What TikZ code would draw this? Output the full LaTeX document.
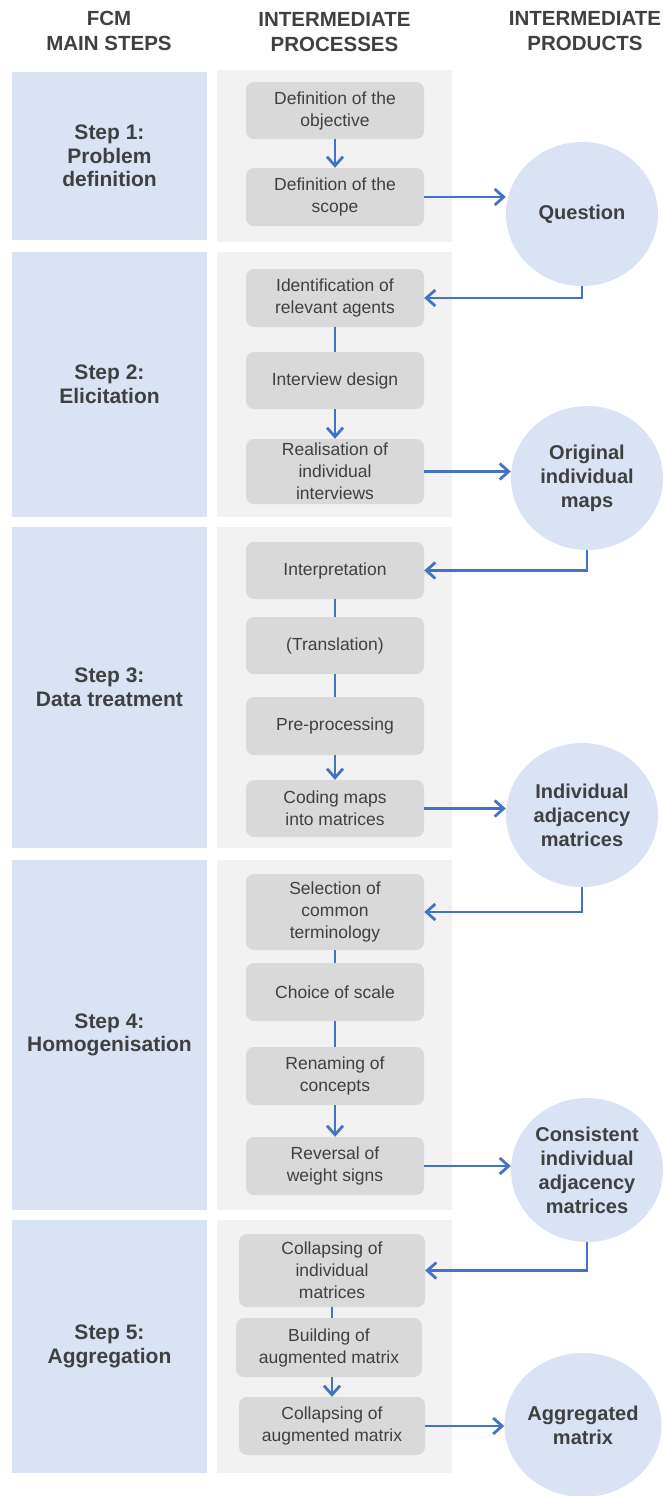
\documentclass[tikz,border=0pt]{standalone}
\usepackage{fontspec}
\setmainfont{Liberation Sans}
\usetikzlibrary{shapes.geometric,arrows.meta}
\definecolor{stepblue}{HTML}{DAE3F3}
\definecolor{bggrey}{HTML}{F2F2F2}
\definecolor{procgrey}{HTML}{D9D9D9}
\definecolor{arrowblue}{HTML}{4472C4}
\definecolor{txt}{HTML}{404040}
\tikzset{
  header/.style={font=\fontsize{20.5}{25}\selectfont\bfseries, text=txt, align=center, inner sep=0pt},
  stepbox/.style={rectangle, fill=stepblue, minimum width=195pt, inner sep=0pt, align=center, text=txt, font=\fontsize{21}{23.5}\selectfont\bfseries},
  bgbox/.style={fill=bggrey},
  proc/.style={rectangle, rounded corners=8pt, fill=procgrey, minimum width=178pt, inner sep=0pt, align=center, text=txt, font=\fontsize{17.5}{22}\selectfont},
  product/.style={ellipse, fill=stepblue, minimum width=152pt, minimum height=144pt, inner sep=0pt, align=center, text=txt, font=\fontsize{20}{24}\selectfont\bfseries},
  link/.style={draw=arrowblue, line width=2.8pt},
  flow/.style={link, -{Straight Barb[length=9pt,width=16pt]}},
}
\begin{document}
\begin{tikzpicture}[x=1pt,y=-1pt]
\useasboundingbox (0,0) rectangle (663,1496);
% headers
\node[header] (h1) at (109,31) {FCM\\MAIN STEPS};
\node[header] (h2) at (334.5,32) {INTERMEDIATE\\PROCESSES};
\node[header] (h3) at (585,31) {INTERMEDIATE\\PRODUCTS};
% grey backgrounds
\fill[bgbox] (217,70) rectangle (452,242);
\fill[bgbox] (217,252) rectangle (452,517);
\fill[bgbox] (217,527) rectangle (452,848);
\fill[bgbox] (217,860) rectangle (452,1210);
\fill[bgbox] (217,1220) rectangle (452,1473);
% steps
\node[stepbox, minimum height=168pt] (s1) at (109.5,156) {Step 1:\\Problem\\definition};
\node[stepbox, minimum height=265pt] (s2) at (109.5,384.5) {Step 2:\\Elicitation};
\node[stepbox, minimum height=321pt] (s3) at (109.5,687.5) {Step 3:\\Data treatment};
\node[stepbox, minimum height=350pt] (s4) at (109.5,1035) {Step 4:\\Homogenisation};
\node[stepbox, minimum height=253pt] (s5) at (109.5,1346.5) {Step 5:\\Aggregation};
% processes
\node[proc, minimum height=57pt] (obj) at (335,110.5) {Definition of the\\objective};
\node[proc, minimum height=58pt] (scope) at (335,197) {Definition of the\\scope};
\node[proc, minimum height=58pt] (ident) at (335,298) {Identification of\\relevant agents};
\node[proc, minimum height=57pt] (interv) at (335,380.5) {Interview design};
\node[proc, minimum height=65pt] (real) at (335,471.5) {Realisation of\\individual\\interviews};
\node[proc, minimum height=57pt] (interp) at (335,570.5) {Interpretation};
\node[proc, minimum height=57pt] (trans) at (335,645.5) {(Translation)};
\node[proc, minimum height=58pt] (prep) at (335,726) {Pre-processing};
\node[proc, minimum height=57pt] (coding) at (335,808.5) {Coding maps\\into matrices};
\node[proc, minimum height=76pt] (sel) at (335,912) {Selection of\\common\\terminology};
\node[proc, minimum height=58pt] (choice) at (335,992) {Choice of scale};
\node[proc, minimum height=58pt] (renam) at (335,1076) {Renaming of\\concepts};
\node[proc, minimum height=58pt] (rev) at (335,1166) {Reversal of\\weight signs};
\node[proc, minimum height=73pt, minimum width=186pt] (collind) at (332,1270.5) {Collapsing of\\individual\\matrices};
\node[proc, minimum height=59pt, minimum width=186pt] (build) at (329,1347.5) {Building of\\augmented matrix};
\node[proc, minimum height=58pt, minimum width=186pt] (collaug) at (332,1426) {Collapsing of\\augmented matrix};
% products
\node[product] (q) at (582,214) {Question};
\node[product] (orig) at (587,478) {Original\\individual\\maps};
\node[product] (adj) at (582,815) {Individual\\adjacency\\matrices};
\node[product] (cons) at (587,1170) {Consistent\\individual\\adjacency\\matrices};
\node[product] (agg) at (583,1425) {Aggregated\\matrix};
% inner connectors
\draw[flow] (obj) -- (scope);
\draw[link] (ident) -- (interv);
\draw[flow] (interv) -- (real);
\draw[link] (interp) -- (trans);
\draw[link] (trans) -- (prep);
\draw[flow] (prep) -- (coding);
\draw[link] (sel) -- (choice);
\draw[link] (choice) -- (renam);
\draw[flow] (renam) -- (rev);
\draw[link] (collind.south) -- (collind.south |- build.north);
\draw[flow] (collind.south |- build.south) -- (collind.south |- collaug.north);
% outputs
\draw[flow] (scope.east) -- (scope.east -| q.west);
\draw[flow] (real.east) -- (real.east -| orig.west);
\draw[flow] (coding.east) -- (coding.east -| adj.west);
\draw[flow] (rev.east) -- (rev.east -| cons.west);
\draw[flow] (collaug.east) -- (collaug.east -| agg.west);
% feedback
\draw[flow] (q.south) |- (ident.east);
\draw[flow] (orig.south) |- (interp.east);
\draw[flow] (adj.south) |- (sel.east);
\draw[flow] (cons.south) |- (collind.east);
\end{tikzpicture}
\end{document}
